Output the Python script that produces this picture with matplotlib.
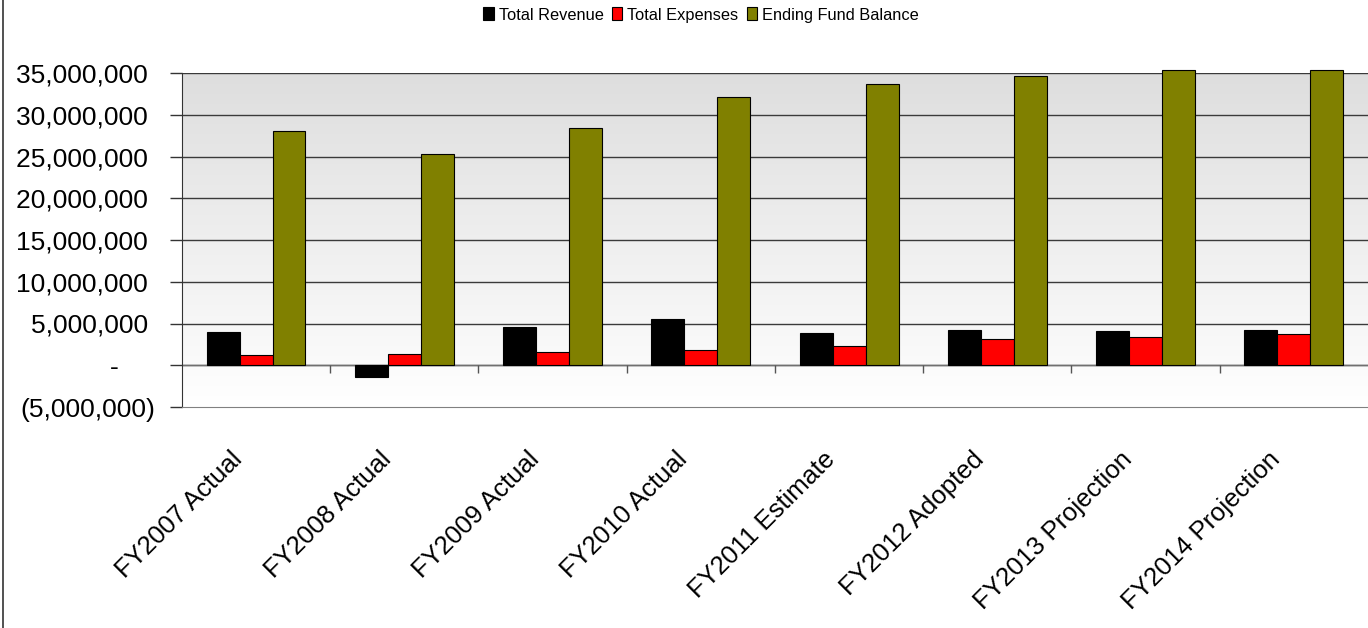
import matplotlib
matplotlib.use("Agg")
import matplotlib.pyplot as plt
import matplotlib.transforms as mtransforms
import numpy as np
from matplotlib.colors import LinearSegmentedColormap
from matplotlib.lines import Line2D

plt.rcParams['font.family'] = ['Liberation Sans', 'DejaVu Sans']

categories = ['FY2007 Actual', 'FY2008 Actual', 'FY2009 Actual', 'FY2010 Actual',
              'FY2011 Estimate', 'FY2012 Adopted', 'FY2013 Projection', 'FY2014 Projection']
total_revenue = [4.0e6, -1.4e6, 4.6e6, 5.57e6, 3.88e6, 4.2e6, 4.05e6, 4.2e6]
total_expenses = [1.2e6, 1.4e6, 1.56e6, 1.84e6, 2.32e6, 3.12e6, 3.4e6, 3.73e6]
ending_balance = [28.1e6, 25.3e6, 28.4e6, 32.1e6, 33.65e6, 34.7e6, 35.3e6, 35.35e6]
series_names = ['Total Revenue', 'Total Expenses', 'Ending Fund Balance']
series_colors = ['#000000', '#ff0000', '#808000']

y_ticks = [-5e6, 0, 5e6, 10e6, 15e6, 20e6, 25e6, 30e6, 35e6]


def money(v):
    if v == 0:
        return '-     '
    if v < 0:
        return '({:,.0f})'.format(-v)
    return '{:,.0f} '.format(v)


fig = plt.figure(figsize=(13.68, 6.28), dpi=100)
ax = fig.add_axes([0.133, 1 - 407 / 628, 1.0 - 0.133, (407 - 73) / 628])

# grey-to-white fill behind the bars
grad = np.linspace(0, 1, 256).reshape(-1, 1)
cmap = LinearSegmentedColormap.from_list('bg', ['#dedede', '#ffffff'])
ax.imshow(grad, cmap=cmap, aspect='auto', extent=[0, 1, 0, 1],
          transform=ax.transAxes, zorder=0)

x = np.arange(len(categories))
w = 1 / 4.5
for i, (vals, name, col) in enumerate(zip([total_revenue, total_expenses, ending_balance],
                                           series_names, series_colors)):
    ax.bar(x + (i - 1) * w, vals, width=w, color=col, edgecolor='black',
           linewidth=0.8, label=name, zorder=3, clip_on=False)

ax.set_xlim(-0.5, len(categories) - 0.5)
ax.set_ylim(-5e6, 35e6)

for yv in y_ticks[1:]:
    ax.axhline(yv, color='#3a3a3a', linewidth=1.0, zorder=1)
ax.axhline(0, color='#707070', linewidth=1.0, zorder=2)

# separators between categories on the zero line
ax.vlines(x[:-1] + 0.5, 0, -0.95e6, color='#555555', linewidth=1.0, zorder=2)

ax.set_yticks(y_ticks)
ax.set_yticklabels([money(v) for v in y_ticks])
ax.tick_params(axis='y', direction='out', length=9, width=1, color='#333333',
               labelsize=19, pad=10)

# slanted category names under the plot
ax.set_xticks([])
trans = mtransforms.blended_transform_factory(ax.transData, ax.transAxes)
offset = mtransforms.ScaledTranslation(-18.5 / 72, -29 / 72, fig.dpi_scale_trans)
for xi, name in zip(x, categories):
    ax.text(xi, 0, name, transform=trans + offset, rotation=45, ha='right',
            va='top', rotation_mode='anchor', fontsize=18.5, clip_on=False)

for s in ['top', 'right']:
    ax.spines[s].set_visible(False)
ax.spines['left'].set_color('#333333')
ax.spines['bottom'].set_color('#808080')

leg = fig.legend(loc='center', bbox_to_anchor=(701 / 1368, 1 - 15 / 628), ncol=3,
                 frameon=False, fontsize=11.8, handlelength=0.65, handleheight=0.85,
                 handletextpad=0.3, columnspacing=0.5)

fig.add_artist(Line2D([0.0025, 0.0025], [0, 1], transform=fig.transFigure,
                      color='#333333', linewidth=1.2))

fig.savefig('out.png', dpi=100)
